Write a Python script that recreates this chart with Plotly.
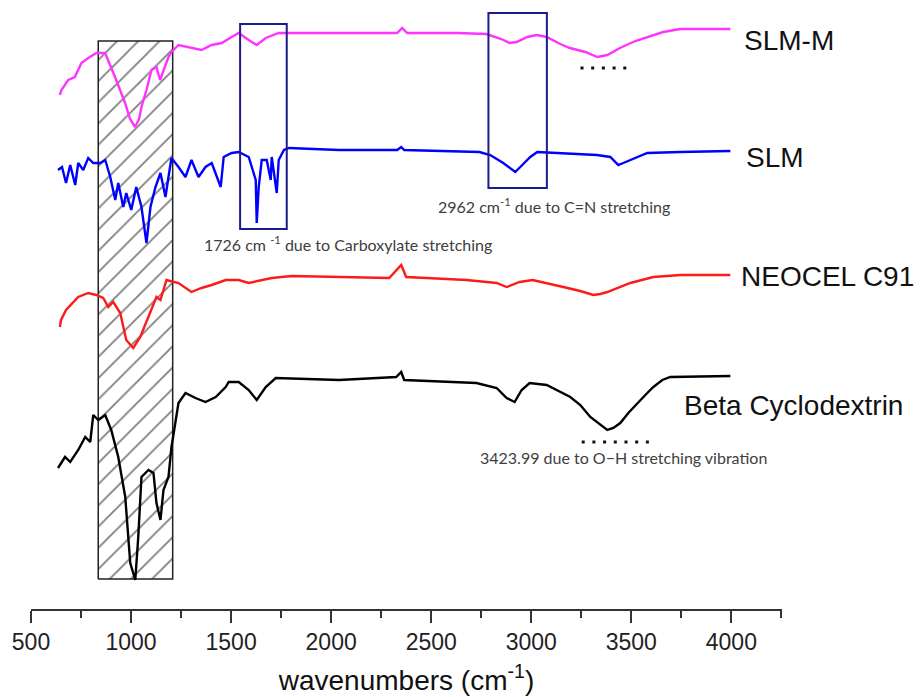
import plotly.graph_objects as go

# ---------------- data (wavenumber, cm^-1 ; stacked transmittance, arbitrary units) ----------------
slmm_x = [644, 652, 686, 719, 752, 786, 827, 870, 920, 970, 995, 1020, 1040, 1052, 1077, 1102, 1127, 1145,
          1187, 1202, 1237, 1302, 1352, 1403, 1453, 1503, 1538, 1588, 1628, 1673, 1738, 1804, 2039, 2330,
          2355, 2380, 2626, 2776, 2850, 2892, 2927, 2980, 3027, 3077, 3145, 3193, 3270, 3330, 3380, 3443,
          3520, 3579, 3659, 3744, 3995]
slmm_y = [514, 519, 529, 532, 546, 551, 556, 556, 532, 506, 490, 482, 490, 502, 519, 539, 542, 529,
          552, 557, 564, 561, 559, 564, 566, 572, 576, 569, 564, 571, 576, 576, 576, 576,
          581, 576, 576, 575, 570, 566, 567, 572, 574, 572, 565, 561, 557, 552, 554, 561,
          568, 572, 577, 580, 580]

slm_x = [635, 655, 675, 696, 721, 736, 761, 786, 811, 846, 871, 896, 921, 936, 961, 976, 1001, 1026, 1052,
         1077, 1097, 1122, 1147, 1172, 1187, 1202, 1237, 1272, 1302, 1337, 1372, 1403, 1448, 1463, 1503,
         1538, 1588, 1623, 1628, 1638, 1653, 1678, 1698, 1703, 1728, 1738, 1764, 1789, 2039, 2330, 2350,
         2365, 2741, 2795, 2860, 2895, 2920, 2955, 2995, 3030, 3157, 3328, 3395, 3435, 3460, 3495, 3580,
         3744, 3995]
slm_y = [439, 442, 426, 444, 424, 446, 439, 451, 446, 446, 449, 432, 409, 426, 402, 416, 399, 422, 402,
         366, 402, 422, 436, 412, 432, 451, 442, 432, 449, 432, 442, 446, 422, 452, 456,
         457, 452, 429, 386, 422, 449, 449, 429, 452, 416, 449, 459, 461, 459, 459, 462,
         459, 457, 454, 446, 441, 437, 444, 452, 457, 456, 454, 452, 444, 446, 449, 456,
         457, 458]

neo_x = [644, 650, 675, 736, 786, 826, 861, 886, 911, 946, 976, 1011, 1046, 1087, 1127, 1147, 1177, 1237,
         1302, 1352, 1403, 1473, 1538, 1588, 1703, 1804, 2039, 2290, 2350, 2375, 2476, 2676, 2827, 2877,
         2942, 3007, 3160, 3245, 3310, 3345, 3380, 3445, 3495, 3610, 3744, 3995]
neo_y = [282, 289, 299, 312, 316, 314, 311, 302, 307, 296, 269, 261, 272, 292, 312, 309, 329, 326,
         317, 321, 324, 329, 329, 326, 331, 333, 332, 331, 344, 332, 331, 329, 326, 322,
         327, 329, 322, 318, 314, 315, 317, 322, 326, 332, 334, 334]

bcd_x = [635, 670, 696, 736, 771, 796, 811, 836, 871, 901, 936, 971, 996, 1021, 1036, 1052, 1087, 1112,
         1127, 1147, 1162, 1187, 1202, 1222, 1237, 1272, 1322, 1372, 1423, 1473, 1488, 1538, 1588, 1628,
         1673, 1723, 2039, 2325, 2350, 2365, 2576, 2726, 2827, 2877, 2917, 2952, 2992, 3077, 3195, 3245,
         3295, 3345, 3380, 3410, 3445, 3485, 3530, 3570, 3610, 3655, 3695, 3995]
bcd_y = [141, 152, 147, 159, 172, 167, 194, 189, 194, 179, 152, 112, 46, 29, 72, 132, 139, 136,
         106, 89, 119, 132, 162, 189, 206, 216, 211, 207, 212, 222, 227, 227, 219, 209,
         222, 231, 229, 232, 237, 229, 227, 226, 221, 211, 207, 219, 226, 224, 212, 204,
         192, 184, 179, 181, 186, 196, 206, 214, 222, 229, 232, 233]

series_names = ["SLM-M", "SLM", "NEOCEL C91", "Beta Cyclodextrin"]
series_colors = ["#ff33ff", "#0000ff", "#ff1a1a", "#000000"]
tick_vals = [500, 1000, 1500, 2000, 2500, 3000, 3500, 4000]

# highlighted regions (wavenumber, y)
hatch_x = [836, 1208]
hatch_y = [30, 568]
box1_x = [1545, 1778]
box1_y = [380, 585]
box2_x = [2786, 3078]
box2_y = [421, 596]

fig = go.Figure()

# hatched band
fig.add_trace(go.Scatter(
    x=[hatch_x[0], hatch_x[1], hatch_x[1], hatch_x[0], hatch_x[0]],
    y=[hatch_y[0], hatch_y[0], hatch_y[1], hatch_y[1], hatch_y[0]],
    mode="lines", fill="toself", fillcolor="rgba(0,0,0,0)",
    fillpattern=dict(shape="/", size=15, solidity=0.12, fgcolor="#000000", bgcolor="rgba(0,0,0,0)"),
    line=dict(color="#222222", width=1.5), hoverinfo="skip", showlegend=False))

for xs, ys, name, col in zip([slmm_x, slm_x, neo_x, bcd_x], [slmm_y, slm_y, neo_y, bcd_y],
                             series_names, series_colors):
    fig.add_trace(go.Scatter(x=xs, y=ys, mode="lines", name=name,
                             line=dict(color=col, width=2.4), showlegend=False))

navy = "#1c1c8a"
for bx, by in [(box1_x, box1_y), (box2_x, box2_y)]:
    fig.add_shape(type="rect", x0=bx[0], x1=bx[1], y0=by[0], y1=by[1],
                  line=dict(color=navy, width=2), fillcolor="rgba(0,0,0,0)", layer="above")

# dotted markers under the O-H band
fig.add_shape(type="line", x0=3246, x1=3478, y0=541, y1=541,
              line=dict(color="#111111", width=3, dash="3px,7.7px"))
fig.add_shape(type="line", x0=3252, x1=3588, y0=167, y1=167,
              line=dict(color="#111111", width=3, dash="3px,7.7px"))

# series labels
label_pos = [(4053, 569), (4065, 452), (4040, 333), (3755, 204)]
for (lx, ly), name in zip(label_pos, series_names):
    fig.add_annotation(x=lx, y=ly, text=name, showarrow=False, xanchor="left", yanchor="middle",
                       font=dict(family="Liberation Sans, Arial", size=28, color="#111111"))

ann_font = dict(family="Lato, Open Sans", size=16, color="#404040")
fig.add_annotation(x=2085, y=366, text="1726 cm <sup>-1</sup> due to Carboxylate stretching",
                   showarrow=False, xanchor="center", yanchor="middle", font=ann_font)
fig.add_annotation(x=3115, y=404, text="2962 cm<sup>-1</sup> due to C=N stretching",
                   showarrow=False, xanchor="center", yanchor="middle", font=ann_font)
fig.add_annotation(x=3462, y=152, text="3423.99 due to O\u2212H stretching vibration",
                   showarrow=False, xanchor="center", yanchor="middle", font=ann_font)

fig.update_layout(
    width=920, height=697,
    margin=dict(l=31, r=138, t=0, b=88),
    paper_bgcolor="white", plot_bgcolor="white",
    xaxis=dict(range=[500, 4253], tickvals=tick_vals, ticks="outside", ticklen=12, tickwidth=1.5,
               tickcolor="#333333", showline=True, linecolor="#333333", linewidth=1.5,
               showgrid=False, zeroline=False,
               minor=dict(dtick=250, tick0=500, ticks="outside", ticklen=7, tickwidth=1.5,
                          tickcolor="#333333", showgrid=False),
               tickfont=dict(family="Liberation Sans, Arial", size=23, color="#222222"),
               title=dict(text="wavenumbers (cm<sup>-1</sup>)", standoff=16,
                          font=dict(family="Liberation Sans, Arial", size=28, color="#111111"))),
    yaxis=dict(range=[0, 609], visible=False, fixedrange=True),
)

fig.write_html("out.html")
